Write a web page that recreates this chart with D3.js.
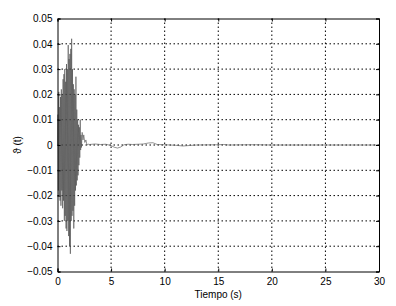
<!DOCTYPE html>
<html><head><meta charset="utf-8">
<script src="https://cdn.jsdelivr.net/npm/d3@7"></script>
<style>
html,body{margin:0;padding:0;background:#fff;}
text{font-family:"Liberation Sans",Arial,sans-serif;}
</style></head>
<body>
<script>
const xTicks = [0, 5, 10, 15, 20, 25, 30];
const yTicks = [-0.05, -0.04, -0.03, -0.02, -0.01, 0, 0.01, 0.02, 0.03, 0.04, 0.05];
const xLabel = "Tiempo (s)";
const yLabel = "\u03D1 (t)";
const time = [0.00,0.04,0.08,0.12,0.16,0.20,0.24,0.28,0.32,0.36,0.40,0.44,0.48,0.52,0.56,0.60,0.64,0.68,0.72,0.76,0.80,0.84,0.88,0.92,0.96,1.00,1.04,1.08,1.12,1.16,1.20,1.24,1.28,1.32,1.36,1.40,1.44,1.48,1.52,1.56,1.60,1.64,1.68,1.72,1.76,1.80,1.84,1.88,1.92,1.96,2.00,2.04,2.08,2.12,2.16,2.20,2.24,2.30,2.38,2.45,2.55,2.65,2.75,2.90,3.0,3.5,4.0,4.5,5.0,5.3,5.6,5.9,6.2,6.6,7.0,7.5,8.0,8.5,8.9,9.3,10,11,11.7,12.3,13,15,15.5,16,18,18.5,20,30];
const theta = [0,0.012,-0.018,0.021,-0.020,0.015,-0.022,0.019,-0.024,0.022,-0.018,0.020,-0.025,0.026,-0.022,0.028,-0.030,0.030,-0.028,0.025,-0.033,0.032,-0.034,0.030,-0.030,0.0395,-0.036,0.034,-0.040,0.036,-0.043,0.038,-0.030,0.042,-0.028,0.030,-0.026,0.024,-0.033,0.022,-0.024,0.020,-0.018,0.027,-0.016,0.014,-0.014,0.010,-0.012,0.008,-0.008,0.007,-0.005,0.010,-0.002,0.004,-0.001,0.005,0.002,0.004,0.001,0.002,0.000,0.0003,0.0002,0.0004,0.0002,0.0003,-0.0002,-0.0009,-0.0012,-0.0008,0.0001,0.0003,0.0002,0.0003,0.0004,0.0008,0.0009,0.0002,0.0001,-0.0001,-0.0004,-0.0002,0,0.0001,0.0002,0,0.0001,0.0001,0,0];

const W = 396, H = 306;
const L = 57.5, R = 379, T = 18.5, B = 271.5;
const svg = d3.select("body").append("svg").attr("width", W).attr("height", H);
const x = d3.scaleLinear().domain([0, 30]).range([L, R]);
const y = d3.scaleLinear().domain([-0.05, 0.05]).range([B, T]);

// grid
const g = svg.append("g");
g.selectAll(".gx").data(xTicks.slice(1, -1)).join("line")
  .attr("x1", d => x(d)).attr("x2", d => x(d)).attr("y1", T).attr("y2", B)
  .attr("stroke", "#000").attr("stroke-width", 1).attr("stroke-dasharray", "1.5,2.5");
g.selectAll(".gy").data(yTicks.slice(1, -1)).join("line")
  .attr("y1", d => y(d)).attr("y2", d => y(d)).attr("x1", L).attr("x2", R)
  .attr("stroke", "#000").attr("stroke-width", 1).attr("stroke-dasharray", "1.5,2.5");

// data line
const line = d3.line().x((d, i) => x(time[i])).y(d => y(d));
svg.append("path").datum(theta).attr("d", line)
  .attr("fill", "none").attr("stroke", "#4a4a4a").attr("stroke-width", 0.6);

// axes
const fmt = d => (d < 0 ? "\u2212" : "") + (d === 0 ? "0" : Math.abs(d).toFixed(2));
const ax = svg.append("g").attr("transform", `translate(0,${B})`)
  .call(d3.axisBottom(x).tickValues(xTicks).tickSize(-3).tickPadding(6).tickFormat(d3.format("d")));
const ay = svg.append("g").attr("transform", `translate(${L},0)`)
  .call(d3.axisLeft(y).tickValues(yTicks).tickSize(-3).tickPadding(5).tickFormat(fmt));
const at = svg.append("g").attr("transform", `translate(0,${T})`)
  .call(d3.axisTop(x).tickValues(xTicks).tickSize(-3).tickFormat(""));
const ar = svg.append("g").attr("transform", `translate(${R},0)`)
  .call(d3.axisRight(y).tickValues(yTicks).tickSize(-3).tickFormat(""));
[ax, ay, at, ar].forEach(a => {
  a.select(".domain").attr("stroke", "#000").attr("stroke-width", 1);
  a.selectAll(".tick line").attr("stroke", "#000");
  a.selectAll("text").attr("font-size", 10).attr("fill", "#000")
    .attr("font-family", "'Liberation Sans', Arial, sans-serif");
});

svg.append("text").attr("x", (L + R) / 2).attr("y", 298).attr("text-anchor", "middle")
  .attr("font-size", 10).text(xLabel);
svg.append("text").attr("transform", `translate(21,${(T + B) / 2}) rotate(-90)`)
  .attr("text-anchor", "middle").attr("font-size", 10).text(yLabel);
</script>
</body></html>
